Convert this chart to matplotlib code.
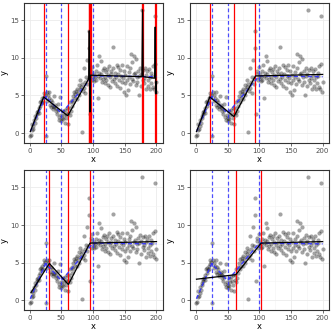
import numpy as np
import matplotlib
matplotlib.use("Agg")
import matplotlib.pyplot as plt

# observations, x = 1..200
x_obs = list(range(1, 201))
y_obs = [
    -0.4, -0.2, 0.4, 1.2, 0.6, 1.0, 1.7, 1.4, 2.3, 2.0,
    2.8, 2.5, 2.9, 3.4, 2.7, 4.1, 3.6, 4.3, 4.0, 4.6,
    4.2, 5.3, 4.8, 5.1, 7.6, -0.4, 5.4, 4.3, 5.0, 4.6,
    5.4, 3.8, 4.4, 3.5, 4.1, 3.6, 3.2, 4.9, 3.5, 3.8,
    3.0, 3.4, 2.6, 3.9, 3.1, 2.2, 1.8, 4.8, 2.4, 1.6,
    2.0, 2.9, 1.9, 2.4, 3.1, 1.3, 2.6, 2.0, 3.3, 1.2,
    2.7, 3.4, 2.4, 4.1, 3.0, 4.4, 3.6, 4.9, 4.2, 5.5,
    4.6, 5.2, 5.6, 4.5, 5.9, 5.3, 6.4, 5.0, 5.8, 7.0,
    6.1, 0.2, 6.5, 5.6, 8.6, 6.0, 6.8, 5.3, 7.4, 9.7,
    6.5, 7.2, 11.3, 13.6, 2.5, 8.3, 7.9, 7.0, 8.8, 7.4,
    7.8, 6.9, 7.5, 8.2, 7.1, 9.0, 7.6, 4.6, 8.0, 10.3,
    7.3, 9.6, 7.9, 6.8, 8.4, 7.2, 8.7, 7.5, 6.6, 8.1,
    7.0, 8.5, 7.7, 6.4, 8.9, 7.4, 6.1, 8.3, 7.8, 6.9,
    8.6, 11.5, 7.2, 6.7, 8.0, 7.5, 9.1, 6.3, 7.9, 8.8,
    7.1, 6.0, 8.4, 7.6, 6.8, 9.0, 7.3, 5.4, 8.2, 6.6,
    7.7, 5.1, 8.9, 7.0, 5.7, 8.1, 7.4, 6.5, 8.6, 10.5,
    7.2, 9.4, 6.9, 7.8, 10.3, 8.0, 6.4, 9.8, 7.5, 6.8,
    8.3, 5.0, 7.6, 8.7, 6.2, 7.9, 16.4, 7.1, 8.4, 6.7,
    7.3, 8.6, 5.8, 7.7, 8.2, 6.3, 7.0, 8.5, 5.9, 7.4,
    6.6, 8.0, 7.6, 6.1, 8.9, 5.8, 9.2, 15.6, 5.5, 6.8,
]

# true change points and true mean curve (blue dashed)
true_cp = [25, 50, 100]
true_x = [1, 25, 50, 100, 200]
true_y = [0.2, 4.9, 2.6, 7.6, 7.5]

# estimated change points (red) and fitted curves (black), one per panel
est_cp = [
    [22, 60, 93, 94, 95, 96, 177, 178, 198, 199],
    [22, 60, 94],
    [31, 61, 95],
    [63, 103],
]
fit_x = [
    [1, 22, 60, 93, 94, 95, 96, 177, 178, 179, 197, 198, 199, 200],
    [1, 22, 60, 94, 200],
    [2, 31, 61, 95, 200],
    [1, 63, 103, 200],
]
fit_y = [
    [0.2, 4.8, 2.3, 7.2, 13.6, 2.8, 7.7, 7.5, 16.4, 7.5, 7.3, 14.1, 5.2, 6.8],
    [0.2, 4.8, 2.2, 7.6, 7.8],
    [1.0, 4.9, 2.1, 7.6, 7.8],
    [2.8, 3.4, 7.6, 7.8],
]

fig = plt.figure(figsize=(3.33, 3.33), dpi=100)
boxes = [
    (0.072, 0.571, 0.417, 0.420),
    (0.571, 0.571, 0.417, 0.420),
    (0.072, 0.069, 0.417, 0.420),
    (0.571, 0.069, 0.417, 0.420),
]

for i, box in enumerate(boxes):
    ax = fig.add_axes(box)
    ax.set_xlim(-9, 210)
    ax.set_ylim(-1.3, 17.3)
    ax.set_xticks([0, 50, 100, 150, 200])
    ax.set_yticks([0, 5, 10, 15])
    ax.set_xticks([25, 75, 125, 175], minor=True)
    ax.set_yticks([2.5, 7.5, 12.5], minor=True)
    ax.grid(which="major", color="#EBEBEB", lw=0.6)
    ax.grid(which="minor", color="#F4F4F4", lw=0.4)
    ax.set_axisbelow(True)
    for s in ax.spines.values():
        s.set_color("#333333")
        s.set_linewidth(0.8)
    ax.tick_params(which="major", length=2, width=0.5, color="#333333",
                   labelsize=5, labelcolor="#4D4D4D", pad=1.5)
    ax.tick_params(which="minor", length=0)
    ax.set_xlabel("x", fontsize=6, labelpad=1)
    ax.set_ylabel("y", fontsize=6, labelpad=1)

    ax.scatter(x_obs, y_obs, s=9, color="black", alpha=0.36, lw=0)
    for c in est_cp[i]:
        ax.axvline(c, color="red", lw=0.9)
    for c in true_cp:
        ax.axvline(c, color="#3030FF", lw=0.9, ls=(0, (3, 2)), alpha=0.85)
    ax.plot(true_x, true_y, color="#3030FF", lw=1.0, ls=(0, (3, 2)), alpha=0.9)
    ax.plot(fit_x[i], fit_y[i], color="black", lw=0.9)

fig.savefig("out.png", dpi=100)
